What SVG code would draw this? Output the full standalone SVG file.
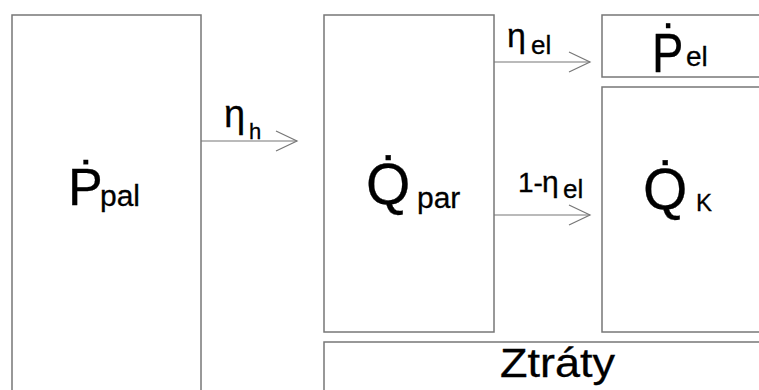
<svg xmlns="http://www.w3.org/2000/svg" width="759" height="390" viewBox="0 0 759 390">
<style>
.box{fill:#fff;stroke:#777;stroke-width:1.5}
.con{fill:none;stroke:#777;stroke-width:1.2}
text{font-family:"Liberation Sans",Arial,sans-serif;fill:#000;stroke:#000;stroke-width:0.3}
</style>
<defs>
<marker id="chev" markerUnits="userSpaceOnUse" markerWidth="24" markerHeight="24" viewBox="0 0 24 24" refX="22" refY="12" orient="auto">
<path d="M1,2 L22,12 L1,22" fill="none" stroke="#777" stroke-width="1.2"/>
</marker>
</defs>
<rect width="759" height="390" fill="#fff"/>
<g id="node-ppal">
<rect class="box" x="12" y="15" width="189" height="400"/>
<text x="68" y="205" font-size="52">Ṗ</text>
<text x="100" y="206" font-size="30">pal</text>
</g>
<g id="node-qpar">
<rect class="box" x="324" y="15" width="170" height="317"/>
<text x="366" y="204" font-size="57">Q̇</text>
<text x="417" y="208" font-size="30">par</text>
</g>
<g id="node-pel">
<rect class="box" x="602" y="15" width="170" height="62"/>
<text transform="translate(652,72) scale(0.84,1)" font-size="56">Ṗ</text>
<text x="686" y="66" font-size="28">el</text>
</g>
<g id="node-qk">
<rect class="box" x="602" y="87" width="170" height="245"/>
<text x="643" y="209" font-size="57">Q̇</text>
<text x="696" y="211" font-size="24">K</text>
</g>
<g id="node-ztraty">
<rect class="box" x="324" y="342" width="450" height="60"/>
<text x="500" y="377" font-size="40" textLength="115" lengthAdjust="spacingAndGlyphs">Ztráty</text>
</g>
<g id="connectors">
<path class="con" d="M201,141 H297" marker-end="url(#chev)"/>
<path class="con" d="M494,62 H590" marker-end="url(#chev)"/>
<path class="con" d="M494,215 H590" marker-end="url(#chev)"/>
<text x="224" y="127" font-size="38">η</text>
<text x="249" y="139" font-size="22">h</text>
<text x="507" y="47" font-size="34">η</text>
<text x="531" y="54" font-size="26">el</text>
<text x="518" y="192" font-size="28">1-</text>
<text x="542" y="192" font-size="30">η</text>
<text x="563" y="198" font-size="26">el</text>
</g>
</svg>
